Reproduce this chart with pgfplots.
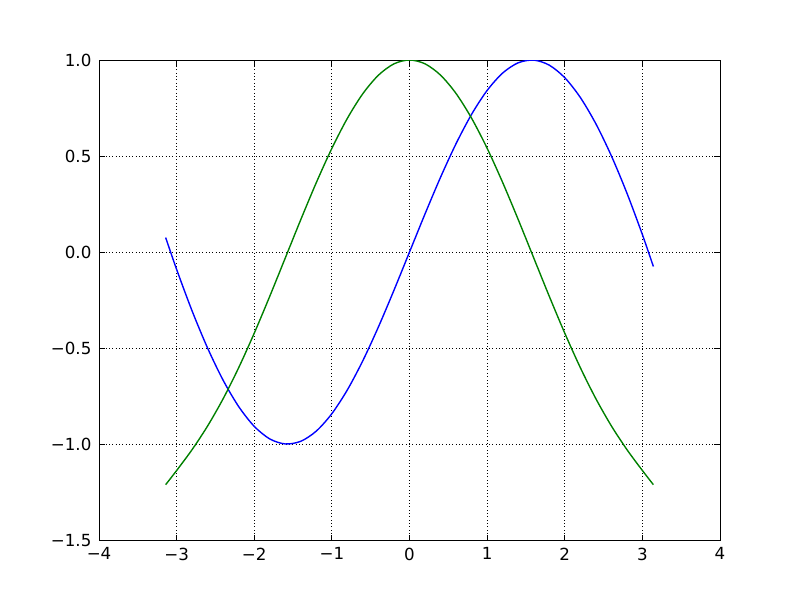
\documentclass[border=0pt]{standalone}
\usepackage{pgfplots}
\pgfplotsset{compat=1.18}
\usepackage{fontspec}
\setmainfont{DejaVu Sans}

\pgfplotstableread{
x        y
-3.14159 0.07522
-3.0     -0.09107
-2.8     -0.30781
-2.6     -0.50142
-2.4     -0.66855
-2.2     -0.80531
-2.0     -0.90794
-1.8     -0.97332
-1.6     -0.99939
-1.4     -0.98539
-1.2     -0.93203
-1.0     -0.84147
-0.8     -0.71736
-0.6     -0.56464
-0.4     -0.38942
-0.2     -0.19867
0.0      0.0
0.2      0.19867
0.4      0.38942
0.6      0.56464
0.8      0.71736
1.0      0.84147
1.2      0.93203
1.4      0.98539
1.6      0.99939
1.8      0.97332
2.0      0.90794
2.2      0.80531
2.4      0.66855
2.6      0.50142
2.8      0.30781
3.0      0.09107
3.14159  -0.07522
}\sinedata

\pgfplotstableread{
x        y
-3.14159 -1.21135
-3.0     -1.1375
-2.8     -1.02823
-2.6     -0.90498
-2.4     -0.76302
-2.2     -0.60141
-2.0     -0.42222
-1.8     -0.22984
-1.6     -0.03024
-1.4     0.16961
-1.2     0.36225
-1.0     0.54028
-0.8     0.69670
-0.6     0.82534
-0.4     0.92106
-0.2     0.98007
0.0      1.0
0.2      0.98007
0.4      0.92106
0.6      0.82534
0.8      0.69670
1.0      0.54028
1.2      0.36225
1.4      0.16961
1.6      -0.03024
1.8      -0.22984
2.0      -0.42222
2.2      -0.60141
2.4      -0.76302
2.6      -0.90498
2.8      -1.02823
3.0      -1.1375
3.14159  -1.21135
}\cosdata

\definecolor{mplgreen}{rgb}{0,0.5,0}

\begin{document}
\begin{tikzpicture}
\begin{axis}[
    scale only axis,
    width=447pt, height=345.6pt,
    xmin=-4, xmax=4, ymin=-1.5, ymax=1,
    xtick={-4,-3,...,4},
    xticklabels={−4,−3,−2,−1,0,1,2,3,4},
    ytick={-1.5,-1,-0.5,0,0.5,1},
    yticklabels={−1.5,−1.0,−0.5,0.0,0.5,1.0},
    tick align=inside,
    major tick length=4pt,
    minor tick num=0,
    grid=major,
    grid style={black, dotted, line width=0.7pt},
    axis line style={black, line width=0.7pt},
    tick style={black, line width=0.7pt},
    tick label style={font=\fontsize{12}{14}\selectfont},
    xticklabel style={yshift=-2pt},
    yticklabel style={xshift=-2pt},
]
\addplot[blue, line width=1pt, smooth] table[x=x, y=y] {\sinedata};
\addplot[mplgreen, line width=1pt, smooth] table[x=x, y=y] {\cosdata};
\end{axis}
\path ([xshift=-71.3pt,yshift=-43.2pt]current axis.south west)
      rectangle ([xshift=57.6pt,yshift=43.2pt]current axis.north east);
\end{tikzpicture}
\end{document}
